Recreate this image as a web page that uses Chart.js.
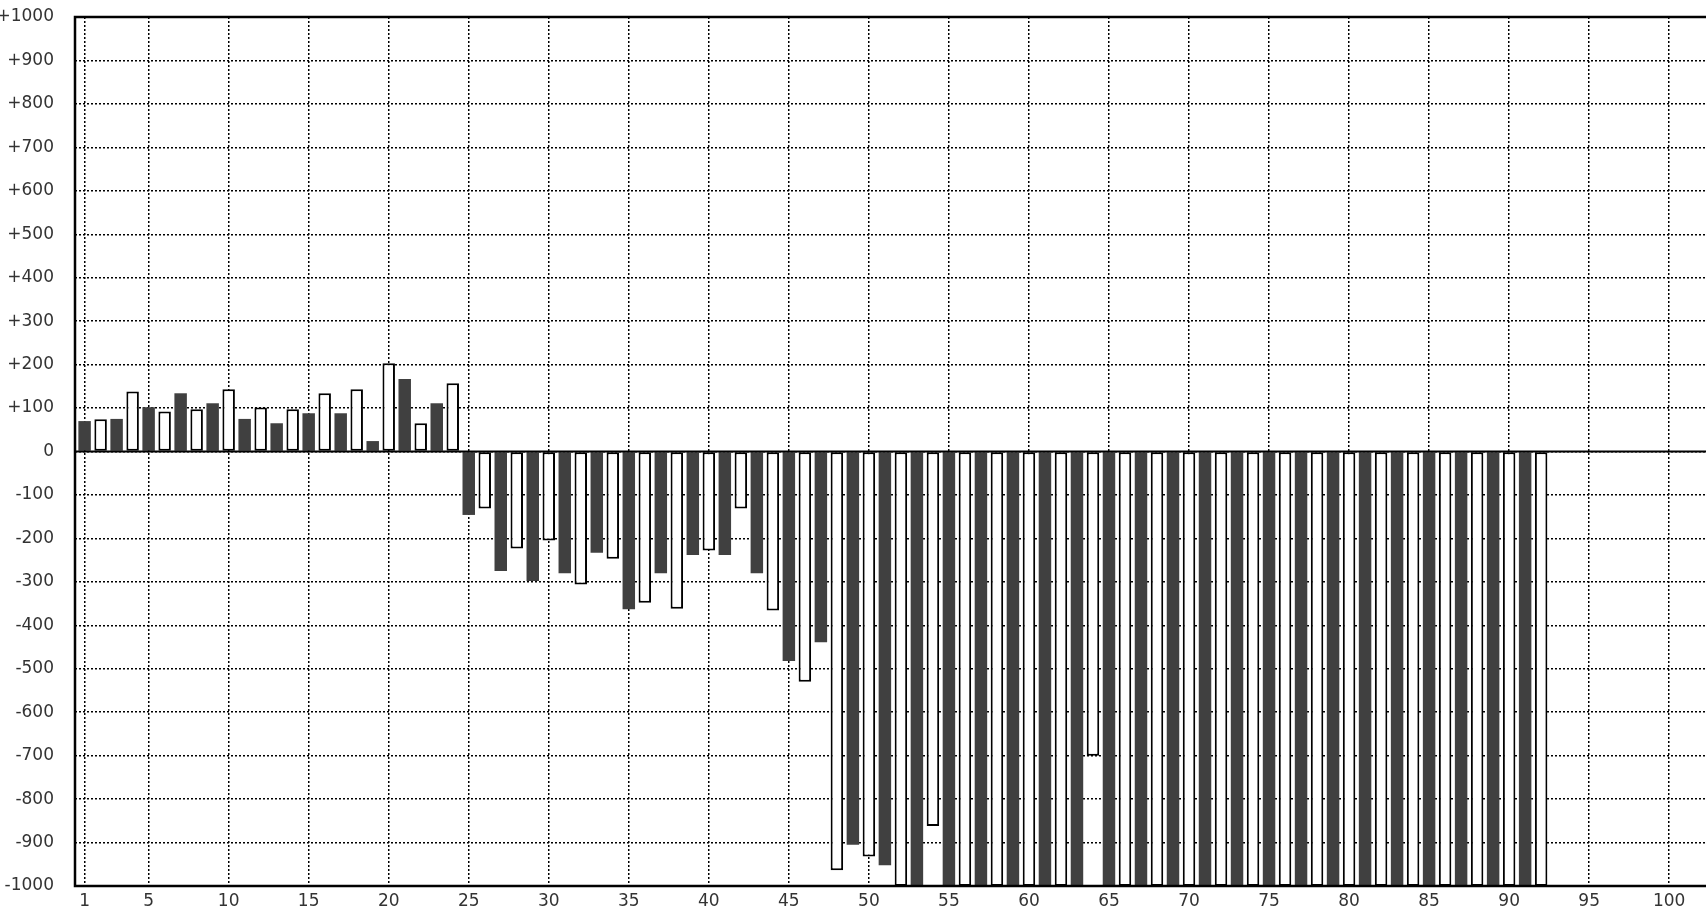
<!DOCTYPE html>
<html>
<head>
<meta charset="utf-8">
<script src="https://cdn.jsdelivr.net/npm/chart.js@4.4.1/dist/chart.umd.min.js"></script>
<style>
  html, body { margin: 0; padding: 0; background: #fff; }
  #wrap { width: 1706px; height: 908px; position: relative; }
</style>
</head>
<body>
<div id="wrap"><canvas id="chart"></canvas></div>
<script>
// bar positions (1..92) and values
const positions = [
  1, 2, 3, 4, 5, 6, 7, 8, 9, 10, 11, 12, 13, 14, 15, 16, 17, 18, 19, 20,
  21, 22, 23, 24, 25, 26, 27, 28, 29, 30, 31, 32, 33, 34, 35, 36, 37, 38, 39, 40,
  41, 42, 43, 44, 45, 46, 47, 48, 49, 50, 51, 52, 53, 54, 55, 56, 57, 58, 59, 60,
  61, 62, 63, 64, 65, 66, 67, 68, 69, 70, 71, 72, 73, 74, 75, 76, 77, 78, 79, 80,
  81, 82, 83, 84, 85, 86, 87, 88, 89, 90, 91, 92
];
const values = [
  70, 74, 75, 138, 102, 92, 134, 97, 111, 143,
  75, 101, 65, 97, 88, 134, 88, 143, 24, 203,
  167, 65, 111, 157, -146, -131, -275, -223, -298, -205,
  -280, -306, -233, -247, -363, -348, -280, -362, -238, -228,
  -238, -131, -280, -366, -482, -530, -439, -964, -905, -932,
  -952, -1000, -1000, -862, -1000, -1000, -1000, -1000, -1000, -1000,
  -1000, -1000, -1000, -700, -1000, -1000, -1000, -1000, -1000, -1000,
  -1000, -1000, -1000, -1000, -1000, -1000, -1000, -1000, -1000, -1000,
  -1000, -1000, -1000, -1000, -1000, -1000, -1000, -1000, -1000, -1000,
  -1000, -1000
];
const xTicks = [1, 5, 10, 15, 20, 25, 30, 35, 40, 45, 50, 55, 60, 65, 70, 75, 80, 85, 90, 95, 100];

const dark = '#404040';

// frame lines: left, top, bottom and the zero line
const framePlugin = {
  id: 'frame',
  afterDatasetsDraw(chart) {
    const {ctx, chartArea: a, scales} = chart;
    const y0 = scales.y.getPixelForValue(0);
    ctx.save();
    ctx.strokeStyle = '#000';
    ctx.setLineDash([]);
    ctx.lineWidth = 2;
    ctx.beginPath();
    ctx.moveTo(a.left, y0);
    ctx.lineTo(a.right, y0);
    ctx.stroke();
    ctx.lineWidth = 2.5;
    ctx.beginPath();
    ctx.moveTo(a.right, a.top);
    ctx.lineTo(a.left, a.top);
    ctx.lineTo(a.left, a.bottom);
    ctx.lineTo(a.right, a.bottom);
    ctx.stroke();
    ctx.restore();
  }
};

const tickFont = {family: 'DejaVu Sans', size: 17};

new Chart(document.getElementById('chart'), {
  type: 'bar',
  data: {
    datasets: [{
      data: positions.map((p, i) => ({x: p, y: values[i]})),
      backgroundColor: positions.map((p, i) => i % 2 === 0 ? dark : '#ffffff'),
      borderColor: positions.map((p, i) => i % 2 === 0 ? dark : '#000000'),
      borderWidth: positions.map((p, i) => i % 2 === 0 ? 0 : 2),
      borderSkipped: false,
      barPercentage: 0.78,
      categoryPercentage: 1
    }]
  },
  options: {
    responsive: true,
    maintainAspectRatio: false,
    animation: false,
    layout: {padding: {top: 17, left: 0, right: 0, bottom: 0}},
    plugins: {legend: {display: false}, tooltip: {enabled: false}},
    scales: {
      x: {
        type: 'linear',
        min: 0.4,
        max: 102.3,
        offset: false,
        afterBuildTicks: (scale) => { scale.ticks = xTicks.map(v => ({value: v})); },
        afterFit: (scale) => {
          scale.height = 22;
          scale.paddingLeft = 0; scale.paddingRight = 0;
          scale.paddingTop = 0; scale.paddingBottom = 0;
        },
        grid: {color: '#000', lineWidth: 1.5, drawTicks: false, offset: false},
        border: {display: false, dash: [2, 2]},
        ticks: {font: tickFont, color: '#333', padding: 5, maxRotation: 0, autoSkip: false}
      },
      y: {
        min: -1000,
        max: 1000,
        afterFit: (scale) => {
          scale.width = 75;
          scale.paddingTop = 0; scale.paddingBottom = 0;
          scale.paddingLeft = 0; scale.paddingRight = 0;
        },
        grid: {color: '#000', lineWidth: 1.5, drawTicks: false},
        border: {display: false, dash: [2, 2]},
        ticks: {
          stepSize: 100,
          font: tickFont,
          color: '#333',
          padding: 21,
          callback: (v) => v > 0 ? '+' + v : String(v)
        }
      }
    }
  },
  plugins: [framePlugin]
});
</script>
</body>
</html>
